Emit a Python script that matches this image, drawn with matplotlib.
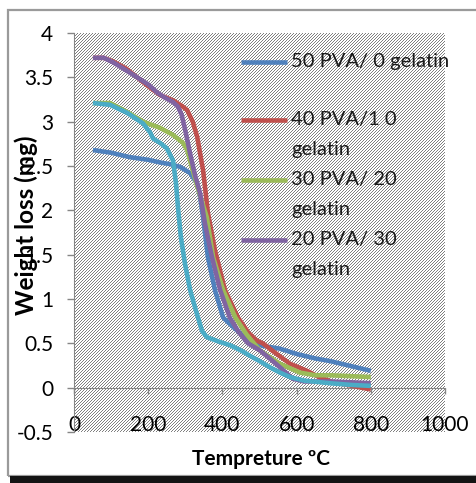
import matplotlib
matplotlib.use("Agg")
import matplotlib.pyplot as plt
from matplotlib.patches import Rectangle
import numpy as np

plt.rcParams['font.family'] = ['Lato', 'DejaVu Sans']
plt.rcParams['axes.unicode_minus'] = False

# ========== data ==========
blue_x = [51, 100, 150, 200, 232, 260, 286, 313, 332, 340, 348, 361, 380, 402, 430, 460, 490, 510, 555, 600, 650, 690, 740, 800]
blue_y = [2.68, 2.65, 2.60, 2.57, 2.54, 2.52, 2.49, 2.42, 2.30, 2.15, 1.92, 1.47, 1.10, 0.79, 0.68, 0.57, 0.50, 0.47, 0.44, 0.38, 0.33, 0.30, 0.25, 0.19]

red_x = [51, 80, 105, 140, 170, 200, 232, 267, 290, 305, 320, 332, 348, 361, 380, 407, 442, 470, 493, 509, 540, 582, 628, 660, 700, 750, 800]
red_y = [3.72, 3.72, 3.68, 3.60, 3.50, 3.40, 3.30, 3.24, 3.18, 3.13, 3.00, 2.83, 2.45, 1.97, 1.55, 1.10, 0.79, 0.62, 0.53, 0.50, 0.40, 0.27, 0.19, 0.12, 0.06, 0.02, -0.02]

green_x = [51, 97, 143, 186, 232, 267, 294, 305, 313, 330, 345, 358, 375, 402, 435, 465, 485, 501, 555, 609, 650, 690, 800]
green_y = [3.21, 3.21, 3.11, 3.00, 2.93, 2.85, 2.76, 2.68, 2.56, 2.30, 2.10, 1.92, 1.47, 1.10, 0.79, 0.60, 0.50, 0.42, 0.27, 0.17, 0.14, 0.14, 0.12]

purple_x = [51, 80, 105, 140, 170, 200, 224, 245, 267, 280, 290, 300, 313, 326, 340, 353, 372, 394, 420, 445, 469, 501, 530, 555, 590, 620, 690, 750, 800]
purple_y = [3.72, 3.72, 3.67, 3.58, 3.50, 3.42, 3.33, 3.27, 3.22, 3.17, 3.08, 2.90, 2.64, 2.40, 2.19, 1.85, 1.47, 1.10, 0.79, 0.62, 0.50, 0.42, 0.32, 0.23, 0.10, 0.07, 0.07, 0.06, 0.05]

cyan_x = [51, 97, 143, 186, 205, 213, 232, 250, 267, 275, 281, 288, 299, 313, 330, 345, 358, 390, 420, 450, 474, 500, 528, 555, 582, 620, 690, 750, 800]
cyan_y = [3.21, 3.19, 3.10, 2.98, 2.88, 2.81, 2.76, 2.70, 2.56, 2.30, 2.00, 1.70, 1.40, 1.10, 0.85, 0.64, 0.57, 0.52, 0.48, 0.42, 0.36, 0.30, 0.23, 0.17, 0.12, 0.08, 0.05, 0.03, 0.02]

series = [
    (blue_x, blue_y, '#4F81BD'),
    (red_x, red_y, '#C0504D'),
    (green_x, green_y, '#9BBB59'),
    (purple_x, purple_y, '#8064A2'),
    (cyan_x, cyan_y, '#4BACC6'),
]
legend_labels = [['50 PVA/ 0 gelatin'], ['40 PVA/1 0', 'gelatin'], ['30 PVA/ 20', 'gelatin'], ['20 PVA/ 30', 'gelatin']]

x_ticks = [0, 200, 400, 600, 800, 1000]
y_ticks = [-0.5, 0, 0.5, 1, 1.5, 2, 2.5, 3, 3.5, 4]
y_tick_labels = ['-0.5', '0', '0.5', '1', '1.5', '2', '2.5', '3', '3.5', '4']

# ========== figure ==========
fig = plt.figure(figsize=(4.77, 4.83), dpi=100)
ax = fig.add_axes([74/477, 51/483, 371/477, 399/483])

# hatched plot area (diagonal "/" stripes as a texture, one pixel per cell)
rows, cols = np.indices((399, 371))
stripes = np.where((rows + cols) % 3 == 0, 0.5, 1.0)
ax.imshow(stripes, cmap='gray', vmin=0, vmax=1, extent=(0, 1, 0, 1), transform=ax.transAxes,
          interpolation='nearest', aspect='auto', zorder=0)

for xs, ys, c in series:
    ax.plot(xs, ys, color=c, linewidth=3.3, solid_capstyle='butt', zorder=3)

ax.set_xlim(0, 1000)
ax.set_ylim(-0.5, 4)
ax.set_aspect('auto')
ax.set_xticks(x_ticks)
ax.set_yticks(y_ticks)
ax.set_yticklabels(y_tick_labels)

for s in ['top', 'right']:
    ax.spines[s].set_visible(False)
ax.spines['bottom'].set_position(('data', 0))
ax.spines['bottom'].set_color('#868686')
ax.spines['left'].set_color('#868686')
ax.spines['bottom'].set_bounds(0, 1000)

ax.tick_params(axis='y', direction='out', length=5, width=1, color='#868686',
               labelsize=15, pad=10, labelcolor='#000000')
ax.tick_params(axis='x', direction='out', length=4, width=1, color='#868686',
               labelsize=15, pad=16, labelcolor='#000000')

ax.set_ylabel('Weight loss (mg)', fontsize=17.5, fontweight='bold', va='center')
ax.yaxis.set_label_coords((26 - 74) / 371, 0.518)
ax.set_xlabel('Tempreture ºC', fontsize=15, fontweight='bold', va='center')
ax.xaxis.set_label_coords(0.505, (432 - 459) / 399)

# legend (Excel style: one slot per series, key at the first text line)
key_x0, key_x1, text_x = (241 - 74) / 371, (287 - 74) / 371, (291 - 74) / 371
slot_top = [62, 120, 180, 240]
for i, lines in enumerate(legend_labels):
    y0 = (432 - slot_top[i]) / 399
    ax.plot([key_x0, key_x1], [y0, y0], transform=ax.transAxes, color=series[i][2],
            linewidth=3.3, solid_capstyle='butt', clip_on=False, zorder=4)
    for j, t in enumerate(lines):
        ax.text(text_x, (432 - slot_top[i] - 30 * j) / 399, t, transform=ax.transAxes,
                fontsize=14.5, va='center', ha='left', color='#1a1a1a', zorder=4)

# chart frame
fig.patches.append(Rectangle((8/477, 7/483), 1.2, 1 - 17/483, transform=fig.transFigure,
                             fill=False, edgecolor='#9a9a9a', linewidth=1.6, zorder=-1))
fig.patches.append(Rectangle((10/477, 0), 1, 7/483, transform=fig.transFigure,
                             facecolor='#141414', edgecolor='none', zorder=-1))

fig.savefig('out.png', dpi=100)
